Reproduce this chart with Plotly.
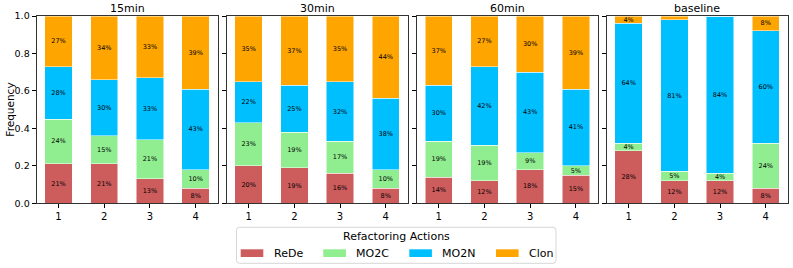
import plotly.graph_objects as go

panels = ["15min", "30min", "60min", "baseline"]
groups = [1, 2, 3, 4]
actions = ["ReDe", "MO2C", "MO2N", "Clon"]
colors = {"ReDe": "#CD5C5C", "MO2C": "#90EE90", "MO2N": "#00BFFF", "Clon": "#FFA500"}

# percentages per panel, per action, for groups 1..4
rede = {"15min": [21, 21, 13, 8], "30min": [20, 19, 16, 8], "60min": [14, 12, 18, 15], "baseline": [28, 12, 12, 8]}
mo2c = {"15min": [24, 15, 21, 10], "30min": [23, 19, 17, 10], "60min": [19, 19, 9, 5], "baseline": [4, 5, 4, 24]}
mo2n = {"15min": [28, 30, 33, 43], "30min": [22, 25, 32, 38], "60min": [30, 42, 43, 41], "baseline": [64, 81, 84, 60]}
clon = {"15min": [27, 34, 33, 39], "30min": [35, 37, 35, 44], "60min": [37, 27, 30, 39], "baseline": [4, 2, 0, 8]}
series = {"ReDe": rede, "MO2C": mo2c, "MO2N": mo2n, "Clon": clon}
yticks = [0.0, 0.2, 0.4, 0.6, 0.8, 1.0]
legend_title = "Refactoring Actions"

W, H = 793, 268
FONT = "DejaVu Sans"
lefts = [36.6, 226.7, 416.8, 606.7]
pw = 181.0
ytop, ybot = 16.0, 203.3

def px(x):
    return x / W

def py(y):
    return 1 - y / H

fig = go.Figure()
for i, p in enumerate(panels):
    xa = "x" if i == 0 else f"x{i+1}"
    ya = "y" if i == 0 else f"y{i+1}"
    for a in actions:
        vals = series[a][p]
        fig.add_trace(go.Bar(
            x=groups, y=[v / 100 for v in vals], name=a,
            marker=dict(color=colors[a], line=dict(color="white", width=0.5)),
            text=[f"{v}%" if v >= 3 else "" for v in vals],
            textposition="inside", insidetextanchor="middle", textangle=0,
            textfont=dict(family=FONT, size=6.5, color="black"),
            width=0.6, xaxis=xa, yaxis=ya, showlegend=False,
            hoverinfo="skip",
        ))
    dom = [px(lefts[i]), px(lefts[i] + pw)]
    xkey = "xaxis" if i == 0 else f"xaxis{i+1}"
    ykey = "yaxis" if i == 0 else f"yaxis{i+1}"
    fig.layout[xkey] = dict(domain=dom, range=[0.52, 4.48], tickvals=groups, ticks="outside", ticklen=4,
                            tickcolor="black", showline=True, linecolor="#333333", linewidth=1, mirror=True,
                            showgrid=False, zeroline=False, anchor=ya, automargin=False,
                            tickfont=dict(family=FONT, size=10, color="black"), fixedrange=True)
    fig.layout[ykey] = dict(domain=[py(ybot), py(ytop)], range=[0, 1], tickvals=yticks,
                            ticktext=[f"{t:.1f}" for t in yticks], showticklabels=(i == 0),
                            ticks="outside", ticklen=4, tickcolor="black", showline=True, linecolor="#333333",
                            linewidth=1, mirror=True, showgrid=False, zeroline=False, anchor=xa, automargin=False,
                            tickfont=dict(family=FONT, size=9.5, color="black"), fixedrange=True)
    fig.add_annotation(text=p, x=px(lefts[i] + pw / 2), y=py(8.5), xref="paper", yref="paper",
                       showarrow=False, font=dict(family=FONT, size=11, color="black"),
                       xanchor="center", yanchor="middle")

fig.add_annotation(text="Frequency", x=px(10), y=py((ytop + ybot) / 2), xref="paper", yref="paper",
                   showarrow=False, textangle=-90, font=dict(family=FONT, size=10.5, color="black"),
                   xanchor="center", yanchor="middle")

# legend drawn by hand (matplotlib-like layout)
lx0, lx1, ly0, ly1, r = 236.5, 556.0, 227.3, 263.3, 3
path = (f"M {px(lx0 + r)},{py(ly0)} L {px(lx1 - r)},{py(ly0)} Q {px(lx1)},{py(ly0)} {px(lx1)},{py(ly0 + r)} "
        f"L {px(lx1)},{py(ly1 - r)} Q {px(lx1)},{py(ly1)} {px(lx1 - r)},{py(ly1)} "
        f"L {px(lx0 + r)},{py(ly1)} Q {px(lx0)},{py(ly1)} {px(lx0)},{py(ly1 - r)} "
        f"L {px(lx0)},{py(ly0 + r)} Q {px(lx0)},{py(ly0)} {px(lx0 + r)},{py(ly0)} Z")
fig.add_shape(type="path", path=path, xref="paper", yref="paper",
              line=dict(color="#d6d6d6", width=1), fillcolor="rgba(255,255,255,0.8)")
fig.add_annotation(text=legend_title, x=px((lx0 + lx1) / 2), y=py(236.5), xref="paper", yref="paper",
                   showarrow=False, font=dict(family=FONT, size=11, color="black"),
                   xanchor="center", yanchor="middle")
sw_x = [240.7, 323.3, 409.3, 496.0]
for a, sx in zip(actions, sw_x):
    fig.add_shape(type="rect", x0=px(sx), x1=px(sx + 22.6), y0=py(257), y1=py(249.3),
                  xref="paper", yref="paper", line=dict(width=0), fillcolor=colors[a])
    fig.add_annotation(text=a, x=px(sx + 31), y=py(253.3), xref="paper", yref="paper",
                       showarrow=False, font=dict(family=FONT, size=11, color="black"),
                       xanchor="left", yanchor="middle")

fig.update_layout(
    width=W, height=H, barmode="stack", bargap=0,
    margin=dict(l=0, r=0, t=0, b=0, pad=0, autoexpand=False),
    paper_bgcolor="white", plot_bgcolor="white",
    font=dict(family=FONT, color="black"),
    uniformtext=dict(minsize=6.5, mode="show"),
    showlegend=False, hovermode=False,
)
fig.write_html("out.html", config={"displayModeBar": False, "staticPlot": True},
               post_script="document.body.style.margin='0';document.body.style.overflow='hidden';")
